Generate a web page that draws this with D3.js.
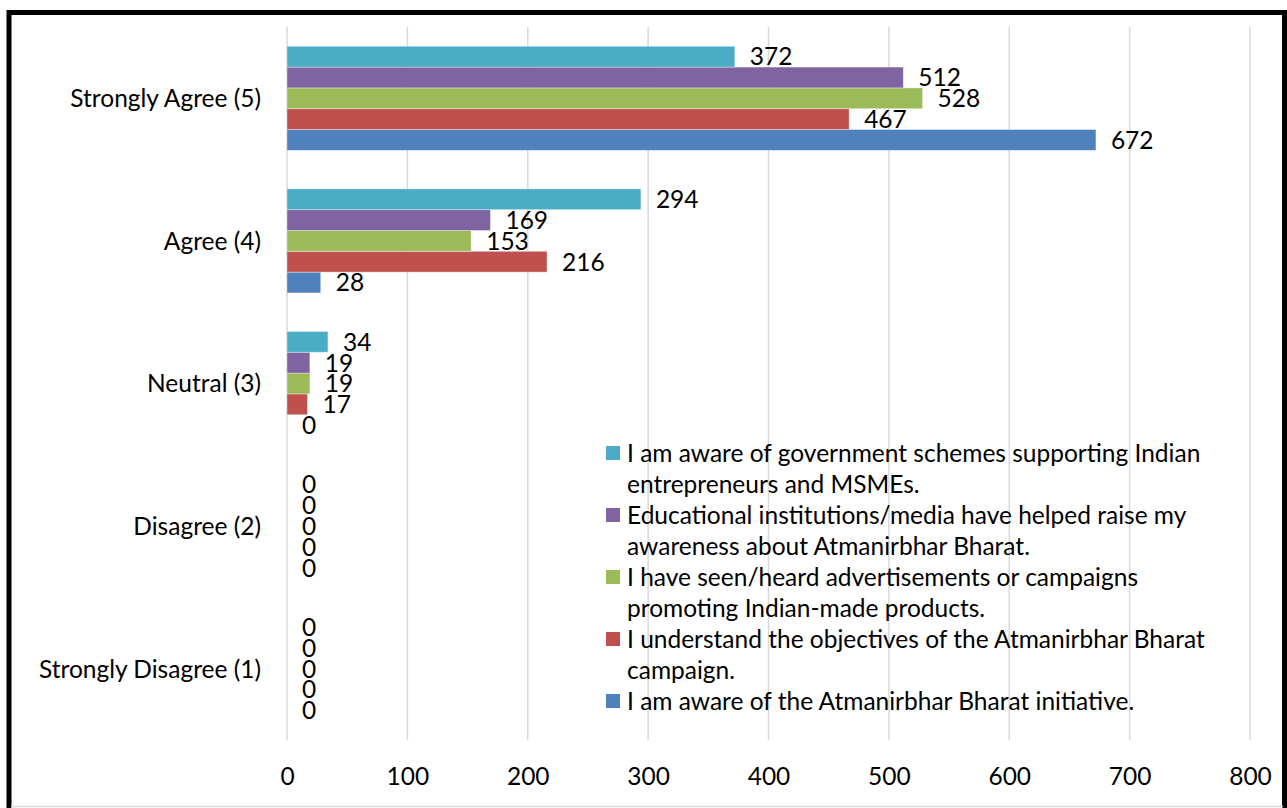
<!DOCTYPE html>
<html>
<head>
<meta charset="utf-8">
<script src="https://cdn.jsdelivr.net/npm/d3@7/dist/d3.min.js"></script>
<style>
  html, body { margin: 0; padding: 0; background: #fff; }
  svg { display: block; }
  text { font-family: Lato, "Open Sans", sans-serif; fill: #000; }
</style>
</head>
<body>
<svg id="chart" width="1287" height="808"></svg>
<script>
// ---- data ----
const categories = ["Strongly Agree (5)", "Agree (4)", "Neutral (3)", "Disagree (2)", "Strongly Disagree (1)"];
const seriesNames = [
  "I am aware of the Atmanirbhar Bharat initiative.",
  "I understand the objectives of the Atmanirbhar Bharat campaign.",
  "I have seen/heard advertisements or campaigns promoting Indian-made products.",
  "Educational institutions/media have helped raise my awareness about Atmanirbhar Bharat.",
  "I am aware of government schemes supporting Indian entrepreneurs and MSMEs."
];
const awareInitiative   = [672, 28, 0, 0, 0];
const understandObj     = [467, 216, 17, 0, 0];
const seenAds           = [528, 153, 19, 0, 0];
const eduMedia          = [512, 169, 19, 0, 0];
const govSchemes        = [372, 294, 34, 0, 0];
const seriesValues = [awareInitiative, understandObj, seenAds, eduMedia, govSchemes];
const seriesColors = ["#4F81BD", "#C0504D", "#9BBB59", "#8064A2", "#4BACC6"];
const xTicks = [0, 100, 200, 300, 400, 500, 600, 700, 800];

// ---- layout ----
const svg = d3.select("#chart");
const plot = { left: 287, right: 1250, top: 27, bottom: 740 };
const fontSize = 24.5;
const ff = "Lato, 'Open Sans', sans-serif";

// outer border
svg.append("rect").attr("x", 9).attr("y", 12.5).attr("width", 1275.5).attr("height", 820)
  .attr("fill", "none").attr("stroke", "#000").attr("stroke-width", 5);
svg.append("line").attr("x1", 11).attr("x2", 1283).attr("y1", 806.5).attr("y2", 806.5)
  .attr("stroke", "#d9d9d9").attr("stroke-width", 1.5);

const x = d3.scaleLinear().domain([0, 800]).range([plot.left, plot.right]);
const y = d3.scaleBand().domain(categories).range([plot.top, plot.bottom])
  .paddingInner(0.27).paddingOuter(0.135);
// top-to-bottom within a group: last series at top
const seriesIdx = d3.range(seriesNames.length).reverse();
const ySub = d3.scaleBand().domain(seriesIdx).range([0, y.bandwidth()]);

// gridlines
svg.append("g").selectAll("line").data(xTicks).join("line")
  .attr("x1", d => x(d)).attr("x2", d => x(d))
  .attr("y1", plot.top).attr("y2", plot.bottom)
  .attr("stroke", "#d9d9d9").attr("stroke-width", 1.5);

// x axis labels
const xAxis = d3.axisBottom(x).tickValues(xTicks).tickSize(0).tickPadding(0).tickFormat(d3.format("d"));
const gx = svg.append("g").attr("transform", `translate(0,${plot.bottom})`).call(xAxis);
gx.select(".domain").remove();
gx.selectAll("text").attr("font-size", fontSize).attr("dy", "0.36em").attr("y", 36)
  .style("font-family", ff).attr("fill", "#000");

// y axis labels
const yAxis = d3.axisLeft(y).tickSize(0).tickPadding(26);
const gy = svg.append("g").attr("transform", `translate(${plot.left},0)`).call(yAxis);
gy.select(".domain").remove();
gy.selectAll("text").attr("font-size", fontSize).attr("dy", "0.36em")
  .style("font-family", ff).attr("fill", "#000");

// bars
const rows = [];
seriesValues.forEach((vals, si) => {
  vals.forEach((v, ci) => rows.push({ si, cat: categories[ci], v }));
});
const gBars = svg.append("g");
gBars.selectAll("rect").data(rows).join("rect")
  .attr("x", x(0))
  .attr("y", d => y(d.cat) + ySub(d.si))
  .attr("width", d => x(d.v) - x(0))
  .attr("height", ySub.bandwidth())
  .attr("fill", d => seriesColors[d.si])
  .attr("stroke", d => d.v > 0 ? "rgba(255,255,255,0.45)" : "none")
  .attr("stroke-width", 0.8);

// value labels
gBars.selectAll("text").data(rows).join("text")
  .attr("x", d => x(d.v) + 15)
  .attr("y", d => y(d.cat) + ySub(d.si) + ySub.bandwidth() / 2)
  .attr("dy", "0.36em")
  .attr("font-size", fontSize)
  .text(d => d.v);

// legend
const legend = svg.append("g");
const legendX = 606, textX = 627, lineH = 31, wrapW = 600;
let ly = 453;
const order = d3.range(seriesNames.length).reverse();
order.forEach(si => {
  legend.append("rect").attr("x", legendX).attr("y", ly - 7).attr("width", 14).attr("height", 14)
    .attr("fill", seriesColors[si]);
  const t = legend.append("text").attr("x", textX).attr("y", ly).attr("font-size", fontSize);
  const words = seriesNames[si].split(" ");
  let line = [];
  let tspan = t.append("tspan").attr("x", textX).attr("y", ly).attr("dy", "0.36em");
  let nLines = 1;
  words.forEach(w => {
    line.push(w);
    tspan.text(line.join(" "));
    if (tspan.node().getComputedTextLength() > wrapW && line.length > 1) {
      line.pop();
      tspan.text(line.join(" "));
      line = [w];
      tspan = t.append("tspan").attr("x", textX).attr("y", ly + nLines * lineH).attr("dy", "0.36em").text(w);
      nLines++;
    }
  });
  ly += nLines * lineH;
});
</script>
</body>
</html>
